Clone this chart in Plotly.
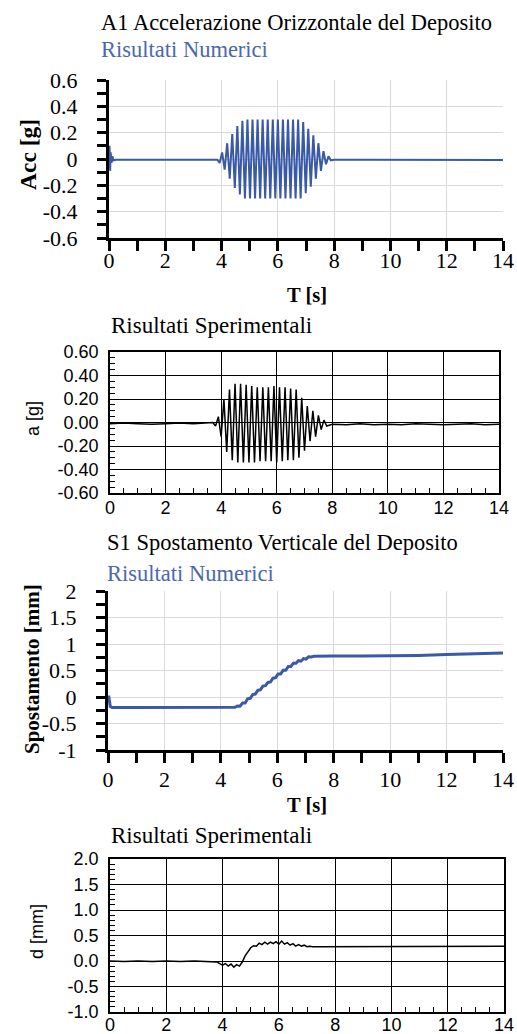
import plotly.graph_objects as go

# ---------------- data ----------------
x_tick_vals = [0, 2, 4, 6, 8, 10, 12, 14]
x_tick_text = ["0", "2", "4", "6", "8", "10", "12", "14"]

acc_num_ticks = [-0.6, -0.4, -0.2, 0, 0.2, 0.4, 0.6]
acc_num_text = ["-0.6", "-0.4", "-0.2", "0", "0.2", "0.4", "0.6"]
acc_exp_ticks = [-0.6, -0.4, -0.2, 0, 0.2, 0.4, 0.6]
acc_exp_text = ["-0.60", "-0.40", "-0.20", "0.00", "0.20", "0.40", "0.60"]
dis_num_ticks = [-1, -0.5, 0, 0.5, 1, 1.5, 2]
dis_num_text = ["-1", "-0.5", "0", "0.5", "1", "1.5", "2"]
dis_exp_ticks = [-1, -0.5, 0, 0.5, 1, 1.5, 2]
dis_exp_text = ["-1.0", "-0.5", "0.0", "0.5", "1.0", "1.5", "2.0"]

# A1 - numerical horizontal acceleration [g]
t_acc_num = [0.00, 0.02, 0.04, 0.06, 0.09, 0.12, 0.16, 0.25, 1.0, 2.0, 3.0, 3.85,
             3.93, 4.02, 4.11, 4.20, 4.29, 4.38, 4.47, 4.56, 4.65, 4.74, 4.83,
             4.92, 5.01, 5.10, 5.19, 5.28, 5.37, 5.46, 5.55, 5.64, 5.73, 5.82,
             5.91, 6.00, 6.09, 6.18, 6.27, 6.36, 6.45, 6.54, 6.63, 6.72, 6.81,
             6.90, 6.99, 7.08, 7.17, 7.26, 7.35, 7.44, 7.53, 7.62, 7.71, 7.80,
             7.88, 8.0, 9.0, 10.0, 11.0, 12.0, 13.0, 14.0]
a_acc_num = [0.0, 0.10, -0.09, 0.05, -0.03, 0.02, -0.01, -0.005, -0.005, -0.005, -0.005, -0.005,
             -0.03, 0.05, -0.08, 0.12, -0.15, 0.19, -0.22, 0.25, -0.27, 0.29, -0.30,
             0.30, -0.30, 0.30, -0.30, 0.30, -0.30, 0.30, -0.30, 0.30, -0.30, 0.30,
             -0.30, 0.30, -0.30, 0.30, -0.30, 0.30, -0.30, 0.30, -0.30, 0.30, -0.30,
             0.28, -0.26, 0.23, -0.21, 0.18, -0.15, 0.12, -0.09, 0.06, -0.04, 0.02,
             -0.01, -0.005, -0.005, -0.005, -0.005, -0.005, -0.005, -0.008]

# A1 - experimental horizontal acceleration [g]
t_acc_exp = [0.0, 0.5, 1.0, 1.5, 2.0, 2.5, 3.0, 3.5, 3.7,
             3.8, 3.9, 4.0, 4.1, 4.2, 4.3, 4.4, 4.5, 4.6, 4.7, 4.8, 4.9, 5.0,
             5.1, 5.2, 5.3, 5.4, 5.5, 5.6, 5.7, 5.8, 5.9, 6.0, 6.1, 6.2, 6.3,
             6.4, 6.5, 6.6, 6.7, 6.8, 6.9, 7.0, 7.1, 7.2, 7.3, 7.4, 7.5, 7.6,
             7.7, 7.8, 8.0, 8.5, 9.0, 9.5, 10.0, 10.5, 11.0, 11.5, 12.0, 12.5,
             13.0, 13.5, 14.0]
a_acc_exp = [-0.01, -0.005, -0.01, -0.015, -0.01, -0.005, -0.01, -0.005, 0.0,
             -0.03, 0.05, -0.12, 0.20, -0.25, 0.28, -0.32, 0.33, -0.34, 0.33, -0.34, 0.32, -0.34,
             0.31, -0.34, 0.30, -0.33, 0.30, -0.33, 0.30, -0.33, 0.31, -0.34, 0.30, -0.33, 0.30,
             -0.32, 0.29, -0.32, 0.28, -0.30, 0.21, -0.24, 0.14, -0.16, 0.10, -0.12, 0.06, -0.06,
             0.02, -0.03, -0.015, -0.02, -0.01, -0.02, -0.015, -0.02, -0.01, -0.015, -0.02, -0.015,
             -0.01, -0.02, -0.015]

# S1 - numerical vertical displacement [mm]
t_dis_num = [0.0, 0.03, 0.08, 0.15, 1.0, 2.0, 3.0, 4.0, 4.40,
             4.50, 4.59, 4.68, 4.77, 4.86, 4.95, 5.04, 5.13, 5.22, 5.31, 5.40,
             5.49, 5.58, 5.67, 5.76, 5.85, 5.94, 6.03, 6.12, 6.21, 6.30, 6.39,
             6.48, 6.57, 6.66, 6.75, 6.84, 6.93, 7.02, 7.11, 7.20,
             7.30, 7.50, 8.0, 9.0, 10.0, 11.0, 12.0, 13.0, 14.0]
d_dis_num = [0.0, 0.0, -0.18, -0.20, -0.20, -0.20, -0.20, -0.20, -0.20,
             -0.195, -0.17, -0.175, -0.115, -0.115, -0.035, -0.025, 0.045, 0.055, 0.125, 0.135,
             0.205, 0.215, 0.275, 0.285, 0.355, 0.365, 0.435, 0.435, 0.505, 0.505, 0.575,
             0.575, 0.635, 0.635, 0.685, 0.675, 0.725, 0.715, 0.76, 0.755,
             0.77, 0.775, 0.775, 0.775, 0.775, 0.785, 0.80, 0.81, 0.83]

# S1 - experimental vertical displacement [mm]
t_dis_exp = [0.0, 0.5, 1.0, 1.5, 2.0, 2.5, 3.0, 3.5, 3.8, 3.9, 4.0, 4.1, 4.2,
             4.3, 4.4, 4.5, 4.6, 4.7, 4.8, 4.9, 5.0, 5.1, 5.2, 5.3, 5.4, 5.5,
             5.6, 5.7, 5.8, 5.9, 6.0, 6.1, 6.2, 6.3, 6.4, 6.5, 6.6, 6.7, 6.8,
             6.9, 7.0, 7.1, 7.2, 7.4, 7.6, 8.0, 9.0, 10.0, 11.0, 12.0, 13.0, 14.0]
d_dis_exp = [0.0, -0.01, 0.0, -0.01, 0.0, -0.01, 0.0, -0.01, -0.02, -0.05, -0.08, -0.05, -0.10,
             -0.06, -0.12, -0.07, -0.10, -0.02, 0.10, 0.18, 0.26, 0.30, 0.29, 0.35, 0.32, 0.37,
             0.33, 0.37, 0.34, 0.38, 0.33, 0.39, 0.33, 0.36, 0.31, 0.34, 0.29, 0.32, 0.29,
             0.31, 0.28, 0.29, 0.28, 0.28, 0.28, 0.28, 0.28, 0.29, 0.29, 0.29, 0.29, 0.29]

# ---------------- layout helpers ----------------
W, H = 517, 1034
BLUE_LINE = "#3a5aa6"
BLUE_TEXT = "#4a68ae"
SERIF = "Liberation Serif, Times New Roman, serif"
SANS = "Liberation Sans, Arial, sans-serif"


def fy(p):
    return 1 - p / H


def fx(p):
    return p / W


fig = go.Figure()

fig.add_trace(go.Scatter(x=t_acc_num, y=a_acc_num, mode="lines", xaxis="x", yaxis="y",
                         line=dict(color=BLUE_LINE, width=2), showlegend=False))
fig.add_trace(go.Scatter(x=t_acc_exp, y=a_acc_exp, mode="lines", xaxis="x2", yaxis="y2",
                         line=dict(color="black", width=1.5), showlegend=False))
fig.add_trace(go.Scatter(x=t_dis_num, y=d_dis_num, mode="lines", xaxis="x3", yaxis="y3",
                         line=dict(color=BLUE_LINE, width=3), showlegend=False))
fig.add_trace(go.Scatter(x=t_dis_exp, y=d_dis_exp, mode="lines", xaxis="x4", yaxis="y4",
                         line=dict(color="black", width=1.5), showlegend=False))


def num_axes(xdom, ydom, yticks, ytext, yrange, yminor, anchor_x, anchor_y, xstand):
    xa = dict(domain=xdom, range=[0, 14], anchor=anchor_y, automargin=False,
              tickmode="array", tickvals=x_tick_vals, ticktext=x_tick_text,
              showline=True, linecolor="black", linewidth=3,
              ticks="outside", ticklen=10, tickwidth=2.5, tickcolor="black",
              minor=dict(dtick=1, tick0=0, ticks="outside", ticklen=10, tickwidth=2.5,
                         tickcolor="black", showgrid=False),
              showgrid=True, gridcolor="#dadada", gridwidth=1, zeroline=False,
              tickfont=dict(family=SERIF, size=22, color="black"),
              ticklabelstandoff=xstand, fixedrange=True)
    ya = dict(domain=ydom, range=yrange, anchor=anchor_x, automargin=False,
              tickmode="array", tickvals=yticks, ticktext=ytext,
              showline=True, linecolor="black", linewidth=3,
              ticks="outside", ticklen=9, tickwidth=2.5, tickcolor="black",
              minor=dict(dtick=yminor, tick0=0, ticks="outside", ticklen=9, tickwidth=2.5,
                         tickcolor="black", showgrid=False),
              showgrid=True, gridcolor="#dadada", gridwidth=1, zeroline=False,
              tickfont=dict(family=SERIF, size=22, color="black"),
              ticklabelstandoff=15, fixedrange=True)
    return xa, ya


def exp_axes(xdom, ydom, yticks, ytext, yrange, yminor, anchor_x, anchor_y, xstand):
    xa = dict(domain=xdom, range=[0, 14], anchor=anchor_y, automargin=False,
              tickmode="array", tickvals=x_tick_vals, ticktext=x_tick_text,
              showline=True, mirror=True, linecolor="black", linewidth=1.6,
              ticks="inside", ticklen=5, tickwidth=1.2, tickcolor="black",
              minor=dict(dtick=0.5, tick0=0, ticks="inside", ticklen=5, tickwidth=1.2,
                         tickcolor="black", showgrid=False),
              showgrid=True, gridcolor="black", gridwidth=1.3, zeroline=False,
              tickfont=dict(family=SANS, size=18, color="black"),
              ticklabelstandoff=xstand, fixedrange=True)
    ya = dict(domain=ydom, range=yrange, anchor=anchor_x, automargin=False,
              tickmode="array", tickvals=yticks, ticktext=ytext,
              showline=True, mirror=True, linecolor="black", linewidth=1.6,
              ticks="inside", ticklen=5, tickwidth=1.2, tickcolor="black",
              minor=dict(dtick=yminor, tick0=0, ticks="inside", ticklen=5, tickwidth=1.2,
                         tickcolor="black", showgrid=False),
              showgrid=True, gridcolor="black", gridwidth=1.3, zeroline=False,
              tickfont=dict(family=SANS, size=18, color="black"),
              ticklabelstandoff=6, fixedrange=True)
    return xa, ya


x1, y1 = num_axes([fx(109), fx(503)], [fy(238), fy(80)], acc_num_ticks, acc_num_text,
                  [-0.6, 0.6], 0.1, "x", "y", -9)
x2, y2 = exp_axes([fx(110), fx(499)], [fy(493), fy(352)], acc_exp_ticks, acc_exp_text,
                  [-0.6, 0.6], 0.05, "x2", "y2", -2)
x3, y3 = num_axes([fx(108), fx(503)], [fy(750), fy(591)], dis_num_ticks, dis_num_text,
                  [-1, 2], 0.25, "x3", "y3", -2)
x4, y4 = exp_axes([fx(110), fx(504)], [fy(1012), fy(859)], dis_exp_ticks, dis_exp_text,
                  [-1, 2], 0.1, "x4", "y4", -4)


def ann(text, xp, yp, size, color="black", family=SERIF, bold=False, angle=0, xanchor="left"):
    t = "<b>%s</b>" % text if bold else text
    return dict(text=t, x=fx(xp), y=fy(yp), xref="paper", yref="paper",
                xanchor=xanchor, yanchor="middle", showarrow=False, textangle=angle,
                font=dict(family=family, size=size, color=color))


annotations = [
    ann("A1 Accelerazione Orizzontale del Deposito", 99, 22, 22.5),
    ann("Risultati Numerici", 99, 50, 22.5, color=BLUE_TEXT),
    ann("Acc [g]", 28, 155, 23.5, bold=True, angle=-90, xanchor="center"),
    ann("T [s]", 307, 295, 20.5, bold=True, xanchor="center"),
    ann("Risultati Sperimentali", 109, 325, 23),
    ann("a [g]", 33, 419, 18, family=SANS, angle=-90, xanchor="center"),
    ann("S1 Spostamento Verticale del Deposito", 105, 542, 22.5),
    ann("Risultati Numerici", 105, 573, 22.5, color=BLUE_TEXT),
    ann("Spostamento [mm]", 32, 669, 21, bold=True, angle=-90, xanchor="center"),
    ann("T [s]", 307, 805, 20.5, bold=True, xanchor="center"),
    ann("Risultati Sperimentali", 109, 835, 23),
    ann("d [mm]", 37, 932, 18, family=SANS, angle=-90, xanchor="center"),
]

fig.update_layout(
    width=W, height=H, autosize=False,
    margin=dict(l=0, r=0, t=0, b=0, pad=0, autoexpand=False),
    paper_bgcolor="white", plot_bgcolor="white",
    font=dict(family=SERIF),
    showlegend=False,
    xaxis=x1, yaxis=y1, xaxis2=x2, yaxis2=y2,
    xaxis3=x3, yaxis3=y3, xaxis4=x4, yaxis4=y4,
    annotations=annotations,
)

fig.write_html("out.html", config={"displayModeBar": False})
